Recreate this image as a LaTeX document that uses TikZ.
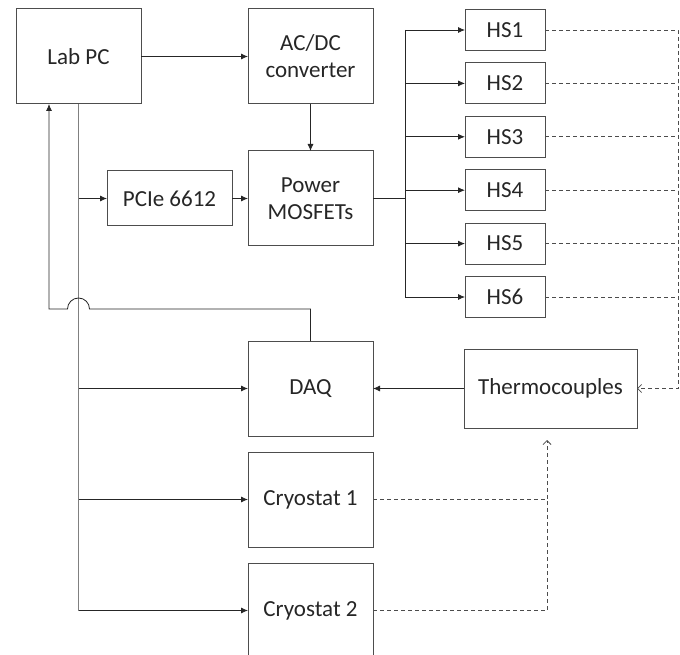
\documentclass[tikz,border=0pt]{standalone}
\usepackage{fontspec}
\setmainfont{Carlito}
\usetikzlibrary{arrows.meta, positioning, calc}
\definecolor{boxline}{HTML}{4D4D4D}
\definecolor{textdark}{HTML}{262626}
\definecolor{trunkgray}{HTML}{808080}

\begin{document}
\begin{tikzpicture}[
    x=1pt, y=1pt,
    % ── Node styles ──────────────────────────────────────────────────────
    base/.style={
        draw=boxline, line width=1pt, inner sep=2pt, outer sep=0pt,
        font=\fontsize{23}{27}\selectfont,
        text=textdark, align=center
    },
    bigbox/.style={
        base, minimum width=125pt, minimum height=95pt
    },
    pciebox/.style={
        base, minimum width=125pt, minimum height=55pt
    },
    hsbox/.style={
        base, minimum width=80pt, minimum height=41pt
    },
    thermobox/.style={
        base, minimum width=173pt, minimum height=79pt
    },
    % ── Line styles ──────────────────────────────────────────────────────
    arr/.style={
        -{Latex[length=7pt, width=6pt]},
        line width=0.8pt, color=black!85
    },
    wire/.style={
        line width=0.8pt, color=black!85
    },
    trunk/.style={
        line width=1.3pt, color=trunkgray
    },
    sigline/.style={
        line width=0.8pt, color=black!70,
        dash pattern=on 4pt off 3pt
    },
    sigarr/.style={
        sigline, -{Straight Barb[length=4pt, width=8pt]}
    }
]
\useasboundingbox (0,0) rectangle (680,-655);

% ═══════════════════════════════════════════════════════════════════════════
% Main blocks
% ═══════════════════════════════════════════════════════════════════════════
\node[bigbox] (labpc) at (78.5,-56.5) {Lab PC};
\node[bigbox, right=107pt of labpc] (acdc) {AC/DC\\converter};
\node[bigbox, below=47pt of acdc] (mosfet) {Power\\MOSFETs};
\node[pciebox, left=16pt of mosfet] (pcie) {PCIe 6612};

\node[bigbox, below=95pt of mosfet] (daq) {DAQ};
\node[bigbox, below=16pt of daq] (cryo1) {Cryostat 1};
\node[bigbox, below=16pt of cryo1] (cryo2) {Cryostat 2};

\node[thermobox, right=91pt of daq] (thermo) {Thermocouples};

% Heater stages
\foreach \i in {1,...,6}
    \node[hsbox] (hs\i) at (505,{-30-53.4*(\i-1)}) {HS\i};

% ═══════════════════════════════════════════════════════════════════════════
% Arrows
% ═══════════════════════════════════════════════════════════════════════════
\draw[arr] (labpc) -- (acdc);
\draw[arr] (acdc)  -- (mosfet);
\draw[arr] (pcie)  -- (mosfet);

% Trunk from the PC
\draw[trunk] (labpc.south) -- (labpc.south |- cryo2.west);
\draw[arr] (labpc.south |- pcie.west)  -- (pcie.west);
\draw[arr] (labpc.south |- daq.west)   -- (daq.west);
\draw[arr] (labpc.south |- cryo1.west) -- (cryo1.west);
\draw[arr] (labpc.south |- cryo2.west) -- (cryo2.west);

% DAQ back to the PC, hopping over the trunk
\coordinate (jump) at (labpc.south |- 0,-309);
\draw[arr] (daq.north) |- ([xshift=11pt]jump)
    arc[start angle=0, end angle=180, radius=11pt]
    -- ([xshift=-29.5pt]jump) -- ([xshift=-29.5pt]labpc.south);

% MOSFETs to the heater stages
\coordinate (bus) at (405,0);
\draw[wire] (mosfet.east) -- (mosfet.east -| bus);
\draw[wire] (bus |- hs1.west) -- (bus |- hs6.west);
\foreach \i in {1,...,6}
    \draw[arr] (bus |- hs\i.west) -- (hs\i.west);

% Thermocouples to DAQ
\draw[arr] (thermo) -- (daq);

% ═══════════════════════════════════════════════════════════════════════════
% Measured signals (dashed)
% ═══════════════════════════════════════════════════════════════════════════
\coordinate (hsright) at (678,0);
\draw[sigarr] (hs1.east) -| (hsright |- thermo.east) -- (thermo.east);
\foreach \i in {2,...,6}
    \draw[sigline] (hs\i.east) -- (hs\i.east -| hsright);

\coordinate (tcin) at ([xshift=-3.5pt, yshift=-12pt]thermo.south);
\draw[sigarr] (cryo1.east) -| (tcin);
\draw[sigline] (cryo2.east) -| (cryo1.east -| tcin);

\end{tikzpicture}
\end{document}
